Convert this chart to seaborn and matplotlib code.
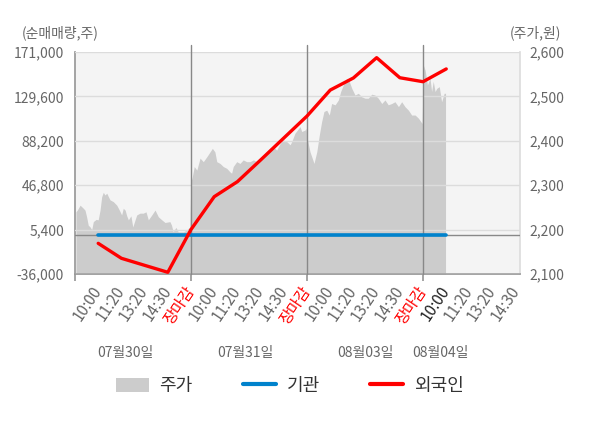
import matplotlib
matplotlib.use('Agg')
import matplotlib.pyplot as plt
import seaborn as sns
from matplotlib.patches import Patch
from matplotlib.lines import Line2D

# 순매매량 (눈금 시각별, 주)
slot = [1, 2, 3, 4, 5, 6, 7, 8, 9, 10, 11, 12, 13, 14, 15, 16]
foreign = [-7400, -21350, -27900, -34400, 5500, 36100, 50100, 70300,
           90800, 111300, 135500, 146800, 165700, 147000, 143300, 155200]
inst = [0, 0, 0, 0, 0, 0, 0, 0, 0, 0, 0, 0, 0, 0, 0, 0]

# 주가 (원) - 분봉 위치 / 값
price_pos = [0.04, 0.10, 0.22, 0.36, 0.43, 0.50, 0.57, 0.65, 0.72, 0.79, 0.91, 1.00,
             1.08, 1.15, 1.22, 1.29, 1.37, 1.44, 1.51, 1.65, 1.80, 1.91, 2.01, 2.08,
             2.16, 2.23, 2.30, 2.41, 2.49, 2.59, 2.66, 2.80, 2.94, 3.06, 3.16, 3.31,
             3.45, 3.59, 3.74, 3.88, 4.09, 4.16, 4.23, 4.35, 4.45, 4.67, 4.81, 4.95,
             5.00, 5.03, 5.14, 5.25, 5.39, 5.53, 5.68, 5.82, 5.92, 6.03, 6.11, 6.25,
             6.39, 6.54, 6.68, 6.75, 6.82, 6.97, 7.11, 7.25, 7.40, 7.54, 7.69, 7.83,
             7.97, 8.19, 8.41, 8.55, 8.69, 8.84, 8.98, 9.13, 9.27, 9.34, 9.48, 9.70,
             9.77, 9.91, 9.96,
             10.02, 10.13, 10.25, 10.30, 10.42, 10.53, 10.63, 10.73, 10.85, 10.96,
             11.06, 11.21, 11.35, 11.45, 11.59, 11.71, 11.82, 11.93, 12.07, 12.21,
             12.36, 12.50, 12.64, 12.79, 12.93, 13.07, 13.22, 13.36, 13.50, 13.65,
             13.79, 13.94, 14.08, 14.22, 14.37, 14.51, 14.66, 14.80, 14.96,
             15.01, 15.09, 15.19, 15.30, 15.37, 15.44, 15.52, 15.59, 15.70, 15.80,
             15.91, 15.97]
price = [2240, 2244, 2255, 2248, 2244, 2229, 2210, 2206, 2200, 2218, 2223, 2222,
         2244, 2274, 2284, 2278, 2282, 2274, 2267, 2263, 2255, 2244, 2233, 2248,
         2244, 2231, 2222, 2231, 2206, 2222, 2233, 2237, 2237, 2240, 2222, 2233,
         2244, 2229, 2222, 2216, 2218, 2210, 2195, 2205, 2195, 2195, 2199, 2206,
         2330, 2312, 2342, 2334, 2361, 2353, 2364, 2375, 2383, 2375, 2353, 2349,
         2342, 2338, 2330, 2327, 2342, 2353, 2349, 2357, 2353, 2353, 2357, 2353,
         2361, 2372, 2383, 2387, 2379, 2394, 2402, 2398, 2391, 2398, 2417, 2432,
         2421, 2424, 2428,
         2402, 2375, 2357, 2349, 2375, 2413, 2443, 2466, 2469, 2458,
         2484, 2481, 2492, 2511, 2529, 2541, 2534, 2518, 2503, 2507,
         2499, 2496, 2496, 2505, 2503, 2496, 2484, 2492, 2481, 2484,
         2488, 2477, 2488, 2477, 2469, 2458, 2458, 2451, 2439,
         2571, 2559, 2526, 2541, 2511, 2534, 2511, 2518, 2522, 2488,
         2507, 2507]

xlabels = ['10:00', '11:20', '13:20', '14:30', '장마감',
           '10:00', '11:20', '13:20', '14:30', '장마감',
           '10:00', '11:20', '13:20', '14:30', '장마감',
           '10:00', '11:20', '13:20', '14:30']
days = ['07월30일', '07월31일', '08월03일', '08월04일']
day_breaks = [5, 10, 15]

left_ticks = [-36000, 5400, 46800, 88200, 129600, 171000]
right_ticks = [2100, 2200, 2300, 2400, 2500, 2600]

sns.set_theme(style='white')
plt.rcParams['font.family'] = ['Noto Sans CJK KR', 'DejaVu Sans']

fig = plt.figure(figsize=(6, 4.28), dpi=100)
ax = fig.add_axes([0.125, 0.3598, 0.7417, 0.5187])
ax2 = ax.twinx()

# 주가 영역 (오른쪽 축)
ax.fill_between(price_pos, 2100, price, color='#cccccc', lw=0, zorder=1)
ax.set_facecolor('#f4f4f4')
ax.set_xlim(0, 19.18)
ax.set_ylim(2100, 2600)
ax.yaxis.tick_right()
ax.set_yticks(right_ticks)
ax.set_yticklabels([f'{v:,}' for v in right_ticks])
ax.set_axisbelow(False)
ax.grid(axis='y', color='#dcdcdc', lw=1)
ax.grid(axis='x', visible=False)
for d in day_breaks:
    ax.axvline(d, color='#888888', lw=1, ymax=1.032, clip_on=False, zorder=3)

ax.xaxis.remove_overlapping_locs = False
ax.set_xticks([0, 5, 10, 15])
ax.set_xticklabels(['', '', '', ''])
ax.set_xticks(list(range(1, 20)), minor=True)
ax.set_xticklabels(xlabels, minor=True, rotation=56, ha='right', va='center',
                   rotation_mode='anchor', fontsize=11)
tick_colors = ['#666666'] * 19
for i, t in enumerate(xlabels):
    if t == '장마감':
        tick_colors[i] = '#ff0000'
tick_colors[15] = '#222222'
for lbl, c in zip(ax.get_xticklabels(minor=True), tick_colors):
    lbl.set_color(c)
ax.tick_params(axis='x', which='major', length=5, color='#999999', bottom=True)
ax.tick_params(axis='x', which='minor', length=0, pad=10, bottom=True)
ax.tick_params(axis='y', length=0, pad=7, labelsize=10, labelcolor='#666666')

for s in ['left', 'bottom']:
    ax.spines[s].set_color('#999999')
ax.spines['right'].set_color('#dddddd')
ax.spines['top'].set_visible(False)

# 순매매량 (왼쪽 축)
ax2.axhline(0, color='#888888', lw=1, zorder=1)
sns.lineplot(x=slot, y=inst, ax=ax2, color='#0082cc', lw=2.6, zorder=3)
sns.lineplot(x=slot, y=foreign, ax=ax2, color='#ff0000', lw=2.4, zorder=4)
ax2.set_ylim(-36000, 171000)
ax2.yaxis.tick_left()
ax2.set_yticks(left_ticks)
ax2.set_yticklabels([f'{v:,}' for v in left_ticks])
ax2.tick_params(axis='y', length=0, pad=8, labelsize=10, labelcolor='#666666')
ax2.set_xlabel('')
ax2.set_ylabel('')
for s in ax2.spines.values():
    s.set_visible(False)

day_pos = [2.16, 7.33, 12.5, 15.73]
for p, d in zip(day_pos, days):
    ax.text(p, -0.356, d, transform=ax.get_xaxis_transform(), ha='center',
            va='center', fontsize=10, color='#666666')

fig.text(22 / 600, 1 - 33 / 428, '(순매매량,주)', ha='left', va='center',
         fontsize=10, color='#666666')
fig.text(561 / 600, 1 - 33 / 428, '(주가,원)', ha='right', va='center',
         fontsize=10, color='#666666')

handles = [Patch(facecolor='#cccccc', edgecolor='none'),
           Line2D([], [], color='#0082cc', lw=3),
           Line2D([], [], color='#ff0000', lw=3)]
leg = fig.legend(handles, ['주가', '기관', '외국인'], loc='center',
                 bbox_to_anchor=(0.483, 1 - 386 / 428), ncol=3, frameon=False,
                 fontsize=13, handlelength=1.8, handleheight=0.8,
                 columnspacing=2.8, handletextpad=0.6)
for t in leg.get_texts():
    t.set_color('#333333')

fig.savefig('out.png', dpi=100)
